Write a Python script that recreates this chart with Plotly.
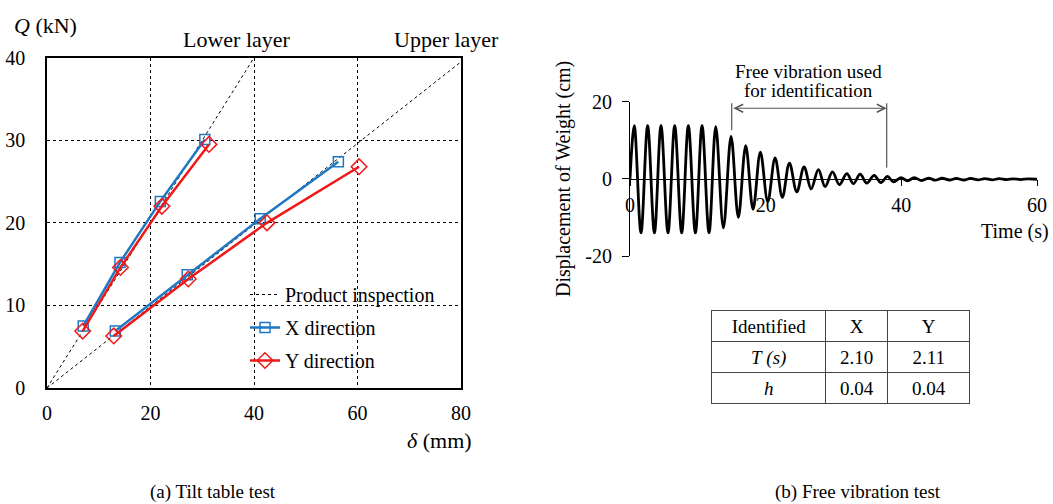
import plotly.graph_objects as go

# ---- (a) Tilt table test: horizontal load Q (kN) vs displacement delta (mm)
x_lower_d = [7.0, 14.1, 21.9, 30.5]
x_lower_q = [7.5, 15.2, 22.6, 30.1]
x_upper_d = [13.2, 27.1, 41.2, 56.3]
x_upper_q = [6.9, 13.7, 20.5, 27.4]

y_lower_d = [6.9, 14.2, 22.2, 31.3]
y_lower_q = [6.9, 14.6, 22.0, 29.5]
y_upper_d = [12.9, 27.3, 42.5, 60.3]
y_upper_q = [6.3, 13.2, 20.0, 26.8]

# product inspection stiffness lines (lower / upper layer)
insp_lower_d = [0, 40]
insp_lower_q = [0, 40]
insp_upper_d = [0, 80]
insp_upper_q = [0, 39.5]

# ---- (b) Free vibration test: displacement of weight, peaks and troughs
wave_t = [0, 0.63, 1.62, 2.6, 3.6, 4.57, 5.6, 6.59, 7.62, 8.6, 9.64, 10.62,
          11.65, 12.64, 13.77, 14.9, 15.97, 17.06, 18.14, 19.22, 20.31,
          21.39, 22.46, 23.5, 24.59, 25.66, 26.7, 27.77, 28.76, 29.84,
          30.87, 31.96, 32.94, 33.92, 34.91, 35.99, 36.98, 37.95, 38.83,
          39.93, 40.9, 41.9, 43.0, 44.0, 45.0, 46.0, 47.1, 48.1, 49.2,
          50.2, 51.3, 52.3, 53.4, 54.4, 55.5, 56.5, 57.6, 58.6, 60.0]
wave_d = [0, 13.8, -14.0, 13.8, -14.0, 13.8, -14.0, 13.8, -14.0, 13.8,
          -14.0, 13.8, -14.0, 13.5, -12.7, 11.0, -10.0, 8.6, -7.9, 6.9,
          -5.9, 5.4, -4.8, 4.1, -3.4, 3.1, -2.6, 2.4, -2.0, 1.8, -1.5,
          1.35, -1.25, 1.2, -1.1, 0.9, -1.0, 0.65, -0.8, 0.3, -0.5, 0.3,
          -0.45, 0.2, -0.35, 0.15, -0.3, 0.1, -0.3, 0.1, -0.25, 0.05,
          -0.25, 0.05, -0.2, 0.0, -0.2, 0.0, -0.1]
disp_ticks = [-20, 0, 20]
disp_ticktext = ["-20", "0", "20"]

# identified parameters (first column: symbols, set in italics)
table_head = ["Identified", "X", "Y"]
table_rows = [["T\u00a0(s)", "h"], ["2.10", "0.04"], ["2.11", "0.04"]]
table_style = ["italic", "normal", "normal"]

# free-vibration window used for identification (s)
ident_window = [15.0, 37.85]

W, H = 1053, 504
SERIF = "Liberation Serif"
BLUE = "#1f78c4"
RED = "#f01818"


def px_x(p):
    return p / W


def px_y(p):
    return 1 - p / H


def joined(a, b):
    return list(a) + [None] + list(b)


fig = go.Figure()

fig.add_trace(go.Scatter(
    x=joined(insp_lower_d, insp_upper_d), y=joined(insp_lower_q, insp_upper_q),
    mode="lines", name="Product inspection",
    line=dict(color="black", width=1, dash="dot"), legendgroup="a",
))
fig.add_trace(go.Scatter(
    x=joined(x_lower_d, x_upper_d), y=joined(x_lower_q, x_upper_q),
    mode="lines+markers", name="X direction", legendgroup="b",
    line=dict(color=BLUE, width=2.5),
    marker=dict(symbol="square-open", size=10, color=BLUE, line=dict(width=1.5)),
))
fig.add_trace(go.Scatter(
    x=joined(y_lower_d, y_upper_d), y=joined(y_lower_q, y_upper_q),
    mode="lines+markers", name="Y direction", legendgroup="c",
    line=dict(color=RED, width=2.5),
    marker=dict(symbol="diamond-open", size=12, color=RED, line=dict(width=1.5)),
))

fig.add_trace(go.Scatter(
    x=wave_t, y=wave_d, mode="lines", xaxis="x2", yaxis="y2", showlegend=False,
    line=dict(color="black", width=2.8, shape="spline", smoothing=1.0),
))

fig.add_trace(go.Table(
    domain=dict(x=[px_x(711.7), px_x(970)], y=[px_y(407), px_y(310.5)]),
    columnwidth=[114, 62, 82],
    header=dict(values=table_head, height=31, align="center",
                fill_color="white", line=dict(color="#444", width=1),
                font=dict(family=SERIF, size=19, color="black")),
    cells=dict(values=table_rows, height=31, align="center",
               fill_color="white", line=dict(color="#444", width=1),
               font=dict(family=SERIF, size=19, color="black", style=table_style)),
))

y2_dom = [px_y(256), px_y(101.7)]
y2_range = [-20, 20]
zero_pos = y2_dom[0] + (0 - y2_range[0]) / (y2_range[1] - y2_range[0]) * (y2_dom[1] - y2_dom[0])

fig.update_layout(
    width=W, height=H, margin=dict(l=0, r=0, t=0, b=0, autoexpand=False),
    paper_bgcolor="white", plot_bgcolor="white",
    font=dict(family=SERIF, size=18, color="black"),
    showlegend=True,
    legend=dict(x=px_x(245), y=px_y(275), xanchor="left", yanchor="top",
                bgcolor="rgba(0,0,0,0)", font=dict(family=SERIF, size=20),
                tracegroupgap=4),
    xaxis=dict(domain=[px_x(47), px_x(461)], range=[0, 80], tickvals=[0, 20, 40, 60, 80],
               showgrid=True, griddash="dot", gridcolor="black", gridwidth=1,
               showline=True, mirror=True, linecolor="black", linewidth=1.5,
               ticks="", ticklabelstandoff=6, zeroline=False, automargin=False,
               tickfont=dict(family=SERIF, size=20)),
    yaxis=dict(domain=[px_y(388), px_y(57.7)], range=[0, 40], tickvals=[0, 10, 20, 30, 40],
               showgrid=True, griddash="dot", gridcolor="black", gridwidth=1,
               showline=True, mirror=True, linecolor="black", linewidth=1.5,
               ticks="", ticklabelstandoff=16, zeroline=False, automargin=False,
               tickfont=dict(family=SERIF, size=20)),
    xaxis2=dict(domain=[px_x(630), px_x(1037)], range=[0, 60], tickvals=[0, 20, 40, 60],
                anchor="free", position=zero_pos, automargin=False,
                showgrid=False, zeroline=False, showline=True, linecolor="black",
                linewidth=1.2, ticks="outside", ticklen=6, tickcolor="black",
                ticklabelstandoff=2, tickfont=dict(family=SERIF, size=20)),
    yaxis2=dict(domain=y2_dom, range=y2_range, tickvals=disp_ticks, ticktext=disp_ticktext,
                anchor="x2", automargin=False,
                showgrid=False, zeroline=False, showline=True, linecolor="black",
                linewidth=1.2, ticks="outside", ticklen=7, tickcolor="black",
                ticklabelstandoff=6, tickfont=dict(family=SERIF, size=20)),
)

ann = [
    dict(text="<i>Q</i> (kN)", x=px_x(45), y=px_y(25), size=22),
    dict(text="Lower layer", x=px_x(237), y=px_y(40), size=22),
    dict(text="Upper layer", x=px_x(446), y=px_y(40), size=22),
    dict(text="<i>δ</i> (mm)", x=px_x(439), y=px_y(440), size=22),
    dict(text="Free vibration used", x=px_x(808), y=px_y(72), size=19),
    dict(text="for identification", x=px_x(808), y=px_y(90), size=19),
    dict(text="(a) Tilt table test", x=px_x(213), y=px_y(492), size=19),
    dict(text="(b) Free vibration test", x=px_x(858), y=px_y(492), size=19),
]
for a in ann:
    fig.add_annotation(text=a["text"], x=a["x"], y=a["y"], xref="paper", yref="paper",
                       showarrow=False, xanchor="center", yanchor="middle",
                       font=dict(family=SERIF, size=a["size"], color="black"))

fig.add_annotation(text="Time (s)", x=px_x(1051), y=px_y(232), xref="paper", yref="paper",
                   showarrow=False, xanchor="right", yanchor="middle",
                   font=dict(family=SERIF, size=20, color="black"))
fig.add_annotation(text="Displacement of Weight (cm)", x=px_x(563), y=px_y(179),
                   xref="paper", yref="paper", showarrow=False, textangle=-90,
                   xanchor="center", yanchor="middle",
                   font=dict(family=SERIF, size=20, color="black"))

# double-headed arrow marking the identification window
fig.add_annotation(x=ident_window[1], y=18.3, ax=ident_window[0], ay=18.3,
                   xref="x2", yref="y2", axref="x2", ayref="y2", text="",
                   showarrow=True, arrowside="end+start", arrowhead=5, startarrowhead=5,
                   arrowsize=1.6, startarrowsize=1.6, arrowwidth=1, arrowcolor="#555")
fig.add_shape(type="line", xref="x2", yref="y2", x0=ident_window[0], x1=ident_window[0],
              y0=12.6, y1=19.6, line=dict(color="#333", width=1))
fig.add_shape(type="line", xref="x2", yref="y2", x0=ident_window[1], x1=ident_window[1],
              y0=2.9, y1=19.6, line=dict(color="#333", width=1))

fig.write_html("out.html")
